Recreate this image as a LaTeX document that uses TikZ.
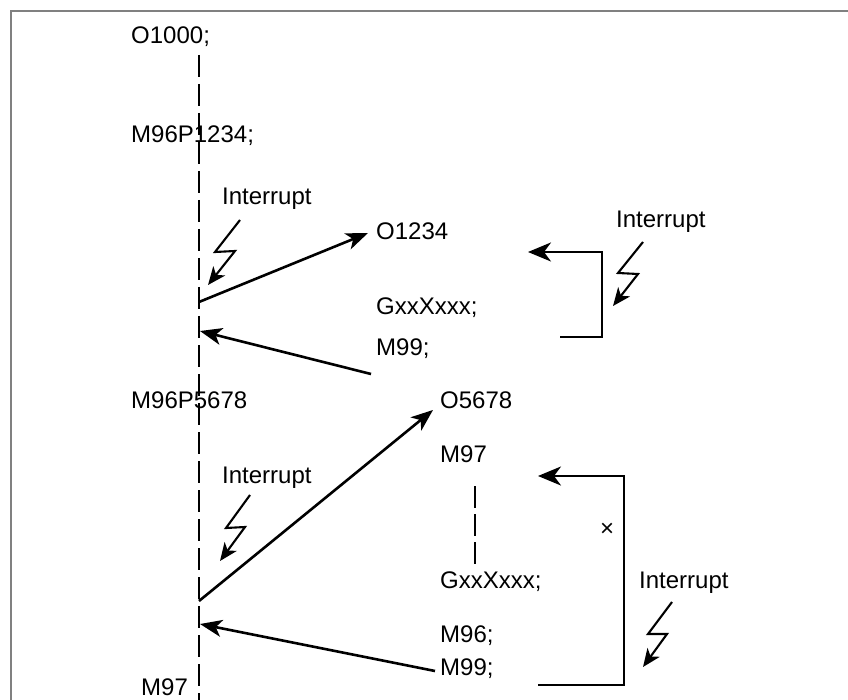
\documentclass[tikz,border=0pt]{standalone}
\usepackage{fontspec}
\setmainfont{Liberation Sans}
\usetikzlibrary{arrows.meta}
\definecolor{framegray}{RGB}{128,128,128}
\begin{document}
\begin{tikzpicture}[x=1pt,y=-1pt,
  lbl/.style={anchor=base west, inner sep=0pt, font=\fontsize{24}{28}\selectfont},
  flow/.style={line width=2.6pt},
  arr/.style={flow, -{Stealth[length=22pt,width=17pt,inset=6pt]}},
  bracketarr/.style={flow, line join=miter, -{Stealth[length=23pt,width=19pt,inset=7pt]}},
  bolt/.style={line width=2.1pt, line join=miter, -{Stealth[length=18pt,width=15pt,inset=5pt]}},
  dashline/.style={line width=2.6pt, dash pattern=on 22pt off 7pt},
  shortdash/.style={line width=2.6pt, dash pattern=on 22pt off 6pt},
  framestyle/.style={line width=2.6pt, draw=framegray}]
\useasboundingbox (0,0) rectangle (848,700);

% frame
\coordinate (fbl) at (11,702);
\coordinate (ftl) at (11,11);
\coordinate (ftr) at (850,11);
\draw[framestyle] (fbl) -- (ftl) -- (ftr);

% main dashed line
\coordinate (mtop) at (199,55);
\coordinate (mbot) at (199,702);
\draw[dashline] (mtop) -- (mbot);

% texts
\node[lbl] (t1000) at (131,44) {O1000;};
\node[lbl] (m96a) at (131,143) {M96P1234;};
\node[lbl] (int1) at (222,205) {Interrupt};
\node[lbl] (o1234) at (376,240) {O1234};
\node[lbl] (g1) at (376,315) {GxxXxxx;};
\node[lbl] (m99a) at (376,355) {M99;};
\node[lbl] (int2) at (616,228) {Interrupt};
\node[lbl] (m96b) at (131,408) {M96P5678};
\node[lbl] (o5678) at (440,408) {O5678};
\node[lbl] (m97r) at (440,462) {M97};
\node[lbl] (g2) at (440,588) {GxxXxxx;};
\node[lbl] (m96c) at (440,642) {M96;};
\node[lbl] (m99b) at (440,675) {M99;};
\node[lbl] (int3) at (639,588) {Interrupt};
\node[lbl] (int4) at (222,483) {Interrupt};
\node[lbl] (m97l) at (141,695) {M97};
\node[inner sep=0pt, font=\fontsize{24}{28}\selectfont] (cross) at (607,530) {×};

% call / return arrows
\coordinate (a1s) at (199,302);
\coordinate (a1e) at (368,233);
\coordinate (a2s) at (371,374);
\coordinate (a2e) at (200,331);
\coordinate (a3s) at (199,601);
\coordinate (a3e) at (433,410);
\coordinate (a4s) at (435,671);
\coordinate (a4e) at (200,624);
\draw[arr] (a1s) -- (a1e);
\draw[arr] (a2s) -- (a2e);
\draw[arr] (a3s) -- (a3e);
\draw[arr] (a4s) -- (a4e);

% lightning bolts
\coordinate (b1a) at (240,220);
\coordinate (b1b) at (215,252);
\coordinate (b1c) at (235,251);
\coordinate (b1d) at (208,285);
\draw[bolt] (b1a) -- (b1b) -- (b1c) -- (b1d);
\coordinate (b2a) at (643,242);
\coordinate (b2b) at (618,273);
\coordinate (b2c) at (638,274);
\coordinate (b2d) at (613,306);
\draw[bolt] (b2a) -- (b2b) -- (b2c) -- (b2d);
\coordinate (b3a) at (672,602);
\coordinate (b3b) at (648,634);
\coordinate (b3c) at (667,634);
\coordinate (b3d) at (643,667);
\draw[bolt] (b3a) -- (b3b) -- (b3c) -- (b3d);
\coordinate (b4a) at (250,495);
\coordinate (b4b) at (226,528);
\coordinate (b4c) at (245,527);
\coordinate (b4d) at (220,561);
\draw[bolt] (b4a) -- (b4b) -- (b4c) -- (b4d);

% brackets
\coordinate (r1a) at (560,337);
\coordinate (r1b) at (602,337);
\coordinate (r1c) at (602,252);
\coordinate (r1d) at (528,252);
\draw[bracketarr] (r1a) -- (r1b) -- (r1c) -- (r1d);
\coordinate (r2a) at (538,685);
\coordinate (r2b) at (624,685);
\coordinate (r2c) at (624,476);
\coordinate (r2d) at (538,476);
\draw[bracketarr] (r2a) -- (r2b) -- (r2c) -- (r2d);

% short dashed line in O5678
\coordinate (sd1) at (475,486);
\coordinate (sd2) at (475,570);
\draw[shortdash] (sd1) -- (sd2);
\end{tikzpicture}
\end{document}
